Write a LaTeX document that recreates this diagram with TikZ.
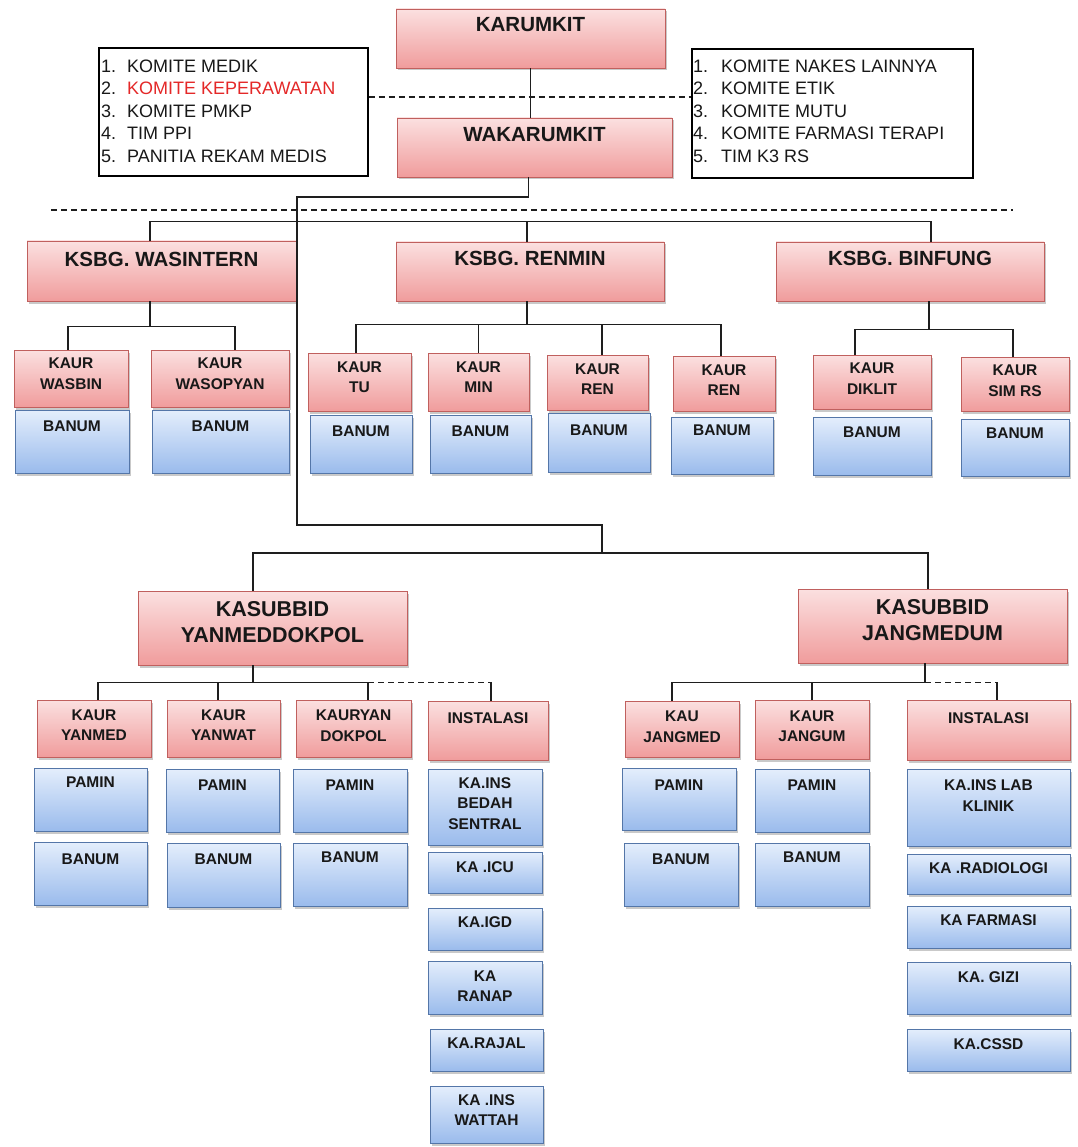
\documentclass[tikz,border=0pt]{standalone}
\usepackage{fontspec}
\setmainfont{Liberation Sans}
\usetikzlibrary{shadows,calc}

\definecolor{pinktop}{RGB}{251,224,224}
\definecolor{pinkbot}{RGB}{240,156,156}
\definecolor{pinkedge}{RGB}{192,96,94}
\definecolor{bluetop}{RGB}{228,238,252}
\definecolor{bluebot}{RGB}{154,187,236}
\definecolor{blueedge}{RGB}{84,118,168}
\definecolor{ink}{RGB}{24,24,24}
\definecolor{wirecol}{RGB}{30,30,30}
\definecolor{alert}{RGB}{228,40,40}

\tikzset{
  shadowed/.style={drop shadow={shadow xshift=1.5pt,shadow yshift=-2.5pt,opacity=0.35,fill=black!60}},
  pinkbox/.style={shadowed, draw=pinkedge, line width=0.8pt, top color=pinktop, bottom color=pinkbot, inner sep=0pt},
  bluebox/.style={shadowed, draw=blueedge, line width=0.8pt, top color=bluetop, bottom color=bluebot, inner sep=0pt},
  listbox/.style={draw=black, line width=1.1pt, fill=white, inner sep=0pt},
  headtxt/.style={font=\fontsize{20.5}{24}\selectfont\bfseries, text=ink, inner sep=0pt, align=center},
  subtxt/.style={font=\fontsize{21.5}{26}\selectfont\bfseries, text=ink, inner sep=0pt, align=center},
  unittxt/.style={font=\fontsize{15.5}{20.5}\selectfont\bfseries, text=ink, inner sep=0pt, align=center},
  listtxt/.style={font=\fontsize{18}{22.5}\selectfont, text=ink, inner sep=0pt, align=left, anchor=north west},
  wire/.style={draw=wirecol, line width=1.2pt},
  dashwire/.style={wire, dash pattern=on 6pt off 4pt},
}

% box with its label set near the top: style, name, x1, y1, x2, y2, label y, label style, label
\newcommand\obox[9]{%
  \node[#1, minimum width={(#5-#3)*1pt}, minimum height={(#6-#4)*1pt}] (#2) at ({(#3+#5)/2},{(#4+#6)/2}) {};
  \node[#8] (#2-t) at ({(#3+#5)/2},#7) {#9};}

\begin{document}
\begin{tikzpicture}[x=1pt,y=-1pt]
\fill[white] (0,0) rectangle (1077,1147);
\useasboundingbox (0,0) rectangle (1077,1147);

% leadership
\obox{pinkbox}{karumkit}{396}{9}{665}{68}{25}{headtxt}{KARUMKIT}
\obox{pinkbox}{wakarumkit}{397}{118}{672}{177}{135}{headtxt}{WAKARUMKIT}

% committees
\node[listbox, minimum width=269pt, minimum height=128pt] (listL) at (233.5,112) {};
\node[listtxt] (listL-t) at (101,59.5) {%
  \makebox[26pt][l]{1.}KOMITE MEDIK\\
  \makebox[26pt][l]{2.}\textcolor{alert}{KOMITE KEPERAWATAN}\\
  \makebox[26pt][l]{3.}KOMITE PMKP\\
  \makebox[26pt][l]{4.}TIM PPI\\
  \makebox[26pt][l]{5.}PANITIA REKAM MEDIS};
\node[listbox, minimum width=281pt, minimum height=129pt] (listR) at (832.5,113.5) {};
\node[listtxt] (listR-t) at (693,59.5) {%
  \makebox[28pt][l]{1.}KOMITE NAKES LAINNYA\\
  \makebox[28pt][l]{2.}KOMITE ETIK\\
  \makebox[28pt][l]{3.}KOMITE MUTU\\
  \makebox[28pt][l]{4.}KOMITE FARMASI TERAPI\\
  \makebox[28pt][l]{5.}TIM K3 RS};

% sections
\obox{pinkbox}{wasintern}{27}{241}{296}{301}{259}{headtxt}{KSBG. WASINTERN}
\obox{pinkbox}{renmin}{396}{242}{664}{301}{258}{headtxt}{KSBG. RENMIN}
\obox{pinkbox}{binfung}{776}{242}{1044}{301}{258}{headtxt}{KSBG. BINFUNG}

\obox{pinkbox}{wasbin}{14}{350}{128}{407}{373.5}{unittxt}{KAUR\\WASBIN}
\obox{pinkbox}{wasopyan}{151}{350}{289}{407}{373.5}{unittxt}{KAUR\\WASOPYAN}
\obox{pinkbox}{kaurtu}{308}{353}{411}{411}{377}{unittxt}{KAUR\\TU}
\obox{pinkbox}{kaurmin}{428}{353}{529}{411}{377}{unittxt}{KAUR\\MIN}
\obox{pinkbox}{kaurren}{547}{355}{648}{410}{379}{unittxt}{KAUR\\REN}
\obox{pinkbox}{kaurren2}{673}{356}{775}{411}{380}{unittxt}{KAUR\\REN}
\obox{pinkbox}{diklit}{813}{355}{931}{409}{378.5}{unittxt}{KAUR\\DIKLIT}
\obox{pinkbox}{simrs}{961}{357}{1069}{411}{380.5}{unittxt}{KAUR\\SIM RS}

\obox{bluebox}{banumA}{15}{410}{129}{473}{426}{unittxt}{BANUM}
\obox{bluebox}{banumB}{152}{410}{289}{473}{426}{unittxt}{BANUM}
\obox{bluebox}{banumC}{310}{415}{412}{473}{431}{unittxt}{BANUM}
\obox{bluebox}{banumD}{430}{415}{531}{473}{431}{unittxt}{BANUM}
\obox{bluebox}{banumE}{548}{413}{650}{472}{430}{unittxt}{BANUM}
\obox{bluebox}{banumF}{671}{417}{773}{474}{430}{unittxt}{BANUM}
\obox{bluebox}{banumG}{813}{417}{931}{475}{432}{unittxt}{BANUM}
\obox{bluebox}{banumH}{961}{419}{1069}{476}{433}{unittxt}{BANUM}

% sub-divisions
\obox{pinkbox}{yanmeddokpol}{138}{591}{407}{665}{622}{subtxt}{KASUBBID\\YANMEDDOKPOL}
\obox{pinkbox}{jangmedum}{798}{589}{1067}{663}{620.5}{subtxt}{KASUBBID\\JANGMEDUM}

\obox{pinkbox}{kauryanmed}{37}{700}{151}{757}{725}{unittxt}{KAUR\\YANMED}
\obox{pinkbox}{kauryanwat}{167}{700}{280}{757}{725}{unittxt}{KAUR\\YANWAT}
\obox{pinkbox}{kauryandokpol}{296}{700}{411}{757}{725.5}{unittxt}{KAURYAN\\DOKPOL}
\obox{pinkbox}{instalasi1}{428}{701}{548}{760}{718}{unittxt}{INSTALASI}
\obox{pinkbox}{kaujangmed}{625}{701}{739}{757}{726.5}{unittxt}{KAU\\JANGMED}
\obox{pinkbox}{kaurjangum}{755}{700}{869}{759}{726}{unittxt}{KAUR\\JANGUM}
\obox{pinkbox}{instalasi2}{907}{700}{1070}{760}{718}{unittxt}{INSTALASI}

\obox{bluebox}{paminA}{34}{768}{147}{831}{782}{unittxt}{PAMIN}
\obox{bluebox}{paminB}{166}{769}{279}{832}{785}{unittxt}{PAMIN}
\obox{bluebox}{paminC}{293}{769}{407}{832}{785}{unittxt}{PAMIN}
\obox{bluebox}{banumI}{34}{842}{147}{905}{859}{unittxt}{BANUM}
\obox{bluebox}{banumJ}{167}{843}{280}{907}{859}{unittxt}{BANUM}
\obox{bluebox}{banumK}{293}{843}{407}{906}{857}{unittxt}{BANUM}

\obox{bluebox}{bedah}{428}{769}{542}{845}{803.5}{unittxt}{KA.INS\\BEDAH\\SENTRAL}
\obox{bluebox}{icu}{428}{852}{542}{893}{867}{unittxt}{KA .ICU}
\obox{bluebox}{igd}{428}{908}{542}{950}{922}{unittxt}{KA.IGD}
\obox{bluebox}{ranap}{428}{961}{542}{1014}{986}{unittxt}{KA\\RANAP}
\obox{bluebox}{rajal}{430}{1029}{543}{1071}{1043}{unittxt}{KA.RAJAL}
\obox{bluebox}{wattah}{430}{1086}{543}{1143}{1110}{unittxt}{KA .INS\\WATTAH}

\obox{bluebox}{paminD}{622}{768}{736}{830}{785}{unittxt}{PAMIN}
\obox{bluebox}{paminE}{755}{769}{869}{832}{785}{unittxt}{PAMIN}
\obox{bluebox}{banumL}{624}{843}{738}{906}{859}{unittxt}{BANUM}
\obox{bluebox}{banumM}{755}{843}{869}{906}{857}{unittxt}{BANUM}

\obox{bluebox}{lab}{907}{769}{1070}{846}{795.5}{unittxt}{KA.INS LAB\\KLINIK}
\obox{bluebox}{radiologi}{907}{854}{1070}{894}{868}{unittxt}{KA .RADIOLOGI}
\obox{bluebox}{farmasi}{907}{906}{1070}{948}{920}{unittxt}{KA FARMASI}
\obox{bluebox}{gizi}{907}{962}{1070}{1014}{977}{unittxt}{KA. GIZI}
\obox{bluebox}{cssd}{907}{1029}{1070}{1071}{1044}{unittxt}{KA.CSSD}

% ---- connectors ----
\draw[wire] (karumkit.south) -- (karumkit.south |- wakarumkit.north);
\coordinate (dashL) at ([yshift=15pt]listL.east);
\draw[dashwire] (dashL) -- (dashL -| listR.west);

\coordinate (divL) at (51,210);
\coordinate (divR) at (1013,210);
\draw[dashwire] (divL) -- (divR);

\coordinate (sp0) at (297,197);
\coordinate (sp1) at (297,525);
\coordinate (bus2) at (602,553);
\draw[wire] ([xshift=-6pt]wakarumkit.south) |- (sp0) -- (sp1) -| (bus2);

\coordinate (bus1) at ($(renmin.north)+(-3,-20)$);
\draw[wire] ($(wasintern.north)+(-11.5,0)$) |- (bus1) -| ($(binfung.north)+(21,0)$);
\draw[wire] (bus1) -- ($(renmin.north)+(-3,0)$);

\coordinate (jw) at ($(wasintern.south)+(-11.5,25)$);
\draw[wire] ($(wasintern.south)+(-11.5,0)$) -- (jw);
\draw[wire] ($(wasbin.north)+(-3,0)$) |- (jw) -| ($(wasopyan.north)+(15,0)$);

\coordinate (jr) at ($(renmin.south)+(-3,23)$);
\draw[wire] ($(renmin.south)+(-3,0)$) -- (jr);
\draw[wire] ($(kaurtu.north)+(-3.5,0)$) |- (jr) -| ($(kaurren2.north)+(-3,0)$);
\draw[wire] (kaurmin.north) -- (kaurmin.north |- jr);
\draw[wire] ($(kaurren.north)+(4.5,0)$) -- ($(kaurren.north |- jr)+(4.5,0)$);

\coordinate (jb) at ($(binfung.south)+(19,28)$);
\draw[wire] ($(binfung.south)+(19,0)$) -- (jb);
\draw[wire] ($(diklit.north)+(-17,0)$) |- (jb) -| ($(simrs.north)+(-2,0)$);

\draw[wire] ($(yanmeddokpol.north)+(-19.5,0)$) |- (bus2) -| ($(jangmedum.north)+(-4.5,0)$);

\coordinate (jy) at ($(yanmeddokpol.south)+(-19.5,17)$);
\draw[wire] ($(yanmeddokpol.south)+(-19.5,0)$) -- (jy);
\draw[wire] ($(kauryanmed.north)+(4,0)$) |- (jy) -| ($(kauryandokpol.north)+(14.5,0)$);
\draw[wire] ($(kauryanwat.north)+(-5.5,0)$) -- ($(kauryanwat.north |- jy)+(-5.5,0)$);
\coordinate (jyd) at ($(kauryandokpol.north |- jy)+(14.5,0)$);
\coordinate (jyi) at ($(instalasi1.north |- jy)+(3,0)$);
\draw[dashwire] (jyd) -- (jyi);
\draw[wire] (jyi) -- ($(instalasi1.north)+(3,0)$);

\coordinate (jj) at ($(jangmedum.south)+(-7.5,19)$);
\draw[wire] ($(jangmedum.south)+(-7.5,0)$) -- (jj);
\draw[wire] ($(kaujangmed.north)+(-10,0)$) |- (jj);
\draw[wire] (kaurjangum.north) -- (kaurjangum.north |- jj);
\coordinate (jji) at ($(instalasi2.north |- jj)+(8.5,0)$);
\draw[dashwire] (jj) -- (jji);
\draw[wire] (jji) -- ($(instalasi2.north)+(8.5,0)$);
\end{tikzpicture}
\end{document}
